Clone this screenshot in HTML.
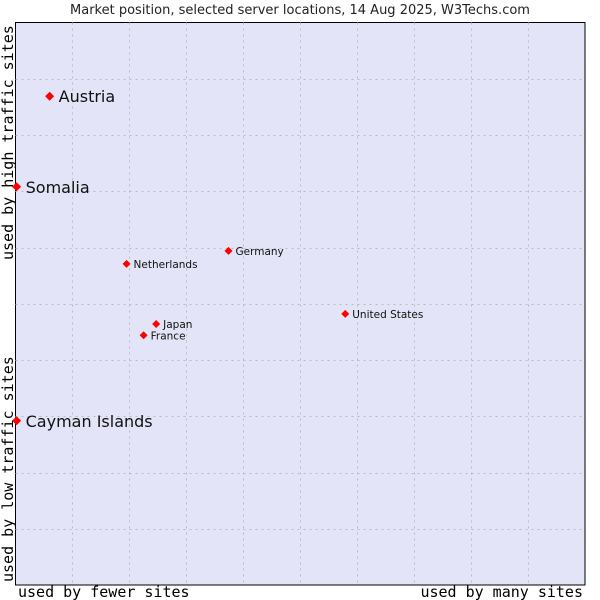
<!DOCTYPE html>
<html><head><meta charset="utf-8"><style>
body{margin:0;background:#fff;}
svg{display:block;}
</style></head><body>
<svg id="chart" width="600" height="600" xmlns="http://www.w3.org/2000/svg">
<text x="300" y="14" text-anchor="middle" font-family="DejaVu Sans, sans-serif" font-size="13" fill="#222">Market position, selected server locations, 14 Aug 2025, W3Techs.com</text>
<rect x="15.5" y="22.5" width="569.5" height="562.5" fill="#e3e4f7" stroke="#000" stroke-width="1"/>
<g id="grid"></g>
<g id="points"></g>
<text x="18" y="597" font-family="DejaVu Sans Mono, monospace" font-size="15">used by fewer sites</text>
<text x="583" y="597" text-anchor="end" font-family="DejaVu Sans Mono, monospace" font-size="15">used by many sites</text>
<text transform="translate(13,260) rotate(-90)" font-family="DejaVu Sans Mono, monospace" font-size="15">used by high traffic sites</text>
<text transform="translate(13,582) rotate(-90)" font-family="DejaVu Sans Mono, monospace" font-size="15">used by low traffic sites</text>
</svg>
<script>
const countries = ["Austria","Somalia","Germany","Netherlands","United States","Japan","France","Cayman Islands"];
const xValues = [6.0,0.2,37.4,19.5,57.9,24.7,22.5,0.2];
const yValues = [86.9,70.8,59.4,57.1,48.2,46.4,44.4,29.2];
const bigLabel = [true,true,false,false,false,false,false,true];
const NS="http://www.w3.org/2000/svg";
const L=15.5,R=585,T=22.5,B=585;
function sx(v){return L+(R-L)*v/100;}
function sy(v){return B-(B-T)*v/100;}
const grid=document.getElementById('grid');
for(let i=1;i<10;i++){
  const vx=document.createElementNS(NS,'line');
  
  
  const x=Math.round(sx(i*10))+0.5;
  vx.setAttribute('x1',x);vx.setAttribute('x2',x);vx.setAttribute('y1',T);vx.setAttribute('y2',B);
  vx.setAttribute('stroke','#bbbbbb');vx.setAttribute('stroke-dasharray','2,4');
  grid.appendChild(vx);
  const hz=document.createElementNS(NS,'line');
  
  
  const y=Math.round(sy(i*10))+0.5;
  hz.setAttribute('x1',L);hz.setAttribute('x2',R);hz.setAttribute('y1',y);hz.setAttribute('y2',y);
  hz.setAttribute('stroke','#bbbbbb');hz.setAttribute('stroke-dasharray','2,4');
  grid.appendChild(hz);
}
const pts=document.getElementById('points');
countries.forEach((c,i)=>{
  const x=sx(xValues[i]),y=sy(yValues[i]);
  const d=document.createElementNS(NS,'polygon');
  
  
  const r=bigLabel[i]?4.5:4;
  d.setAttribute('points',`${x},${y-r} ${x+r},${y} ${x},${y+r} ${x-r},${y}`);
  d.setAttribute('fill','#ff0000');
  pts.appendChild(d);
  const t=document.createElementNS(NS,'text');
  
  
  t.setAttribute('x',x+(bigLabel[i]?9:7));
  t.setAttribute('y',y+(bigLabel[i]?6:4));
  t.setAttribute('font-family','DejaVu Sans, sans-serif');
  t.setAttribute('font-size',bigLabel[i]?'16':'10.5');
  t.setAttribute('fill','#111');
  t.textContent=c;
  pts.appendChild(t);
});
</script>
</body></html>
